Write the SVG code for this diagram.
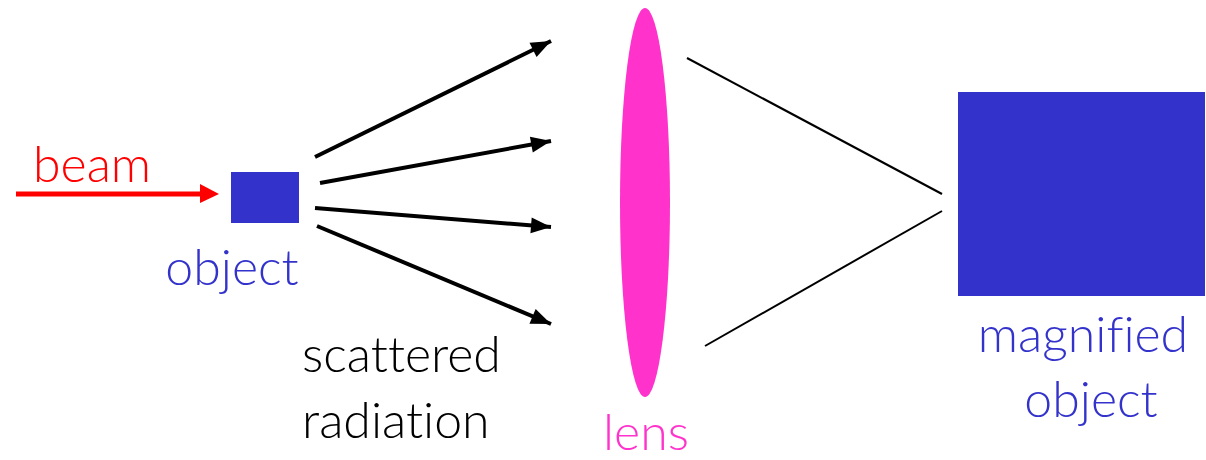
<svg xmlns="http://www.w3.org/2000/svg" width="1206" height="460" viewBox="0 0 1206 460">
<style>
text{font-family:Lato,"Open Sans","Liberation Sans",sans-serif;font-size:50px;font-weight:300;font-variant-ligatures:none;font-feature-settings:"liga" 0,"clig" 0}
.blue{fill:#3333CC}
.arr{stroke:#000;stroke-width:4;fill:none}
.ray{stroke:#000;stroke-width:2;fill:none}
</style>
<defs>
<marker id="ah" markerUnits="userSpaceOnUse" viewBox="0 0 20 16" refX="20" refY="8" markerWidth="20" markerHeight="16" orient="auto" overflow="visible">
<path d="M0,0 L20,8 L0,16 Z" fill="#000"/>
</marker>
</defs>
<rect width="1206" height="460" fill="#fff"/>
<g id="beam">
<line x1="16" y1="194" x2="202" y2="194" stroke="#FF0000" stroke-width="5"/>
<path d="M200,184 L219,194 L200,203 Z" fill="#FF0000"/>
<text x="33" y="182" fill="#FF0000">beam</text>
</g>
<g id="object">
<rect x="231" y="172" width="68" height="51" class="blue"/>
<text x="232" y="285" text-anchor="middle" class="blue">object</text>
</g>
<g id="connectors">
<line class="arr" x1="315" y1="157" x2="551" y2="41" marker-end="url(#ah)"/>
<line class="arr" x1="320" y1="183" x2="551" y2="141" marker-end="url(#ah)"/>
<line class="arr" x1="315" y1="208" x2="551" y2="227" marker-end="url(#ah)"/>
<line class="arr" x1="317" y1="226" x2="551" y2="324" marker-end="url(#ah)"/>
<line class="ray" x1="687" y1="58" x2="942" y2="194"/>
<line class="ray" x1="942" y1="211" x2="705" y2="346"/>
</g>
<g id="scattered">
<text x="302" y="372">scattered</text>
<text x="302" y="438">radiation</text>
</g>
<g id="lens">
<ellipse cx="645" cy="202.5" rx="25" ry="194.5" fill="#FF33CC"/>
<text x="646" y="450" text-anchor="middle" fill="#FF33CC">lens</text>
</g>
<g id="magnified">
<rect x="958" y="92" width="247" height="204" class="blue"/>
<text x="1083" y="352" text-anchor="middle" class="blue">magnified</text>
<text x="1091" y="417" text-anchor="middle" class="blue">object</text>
</g>
</svg>
